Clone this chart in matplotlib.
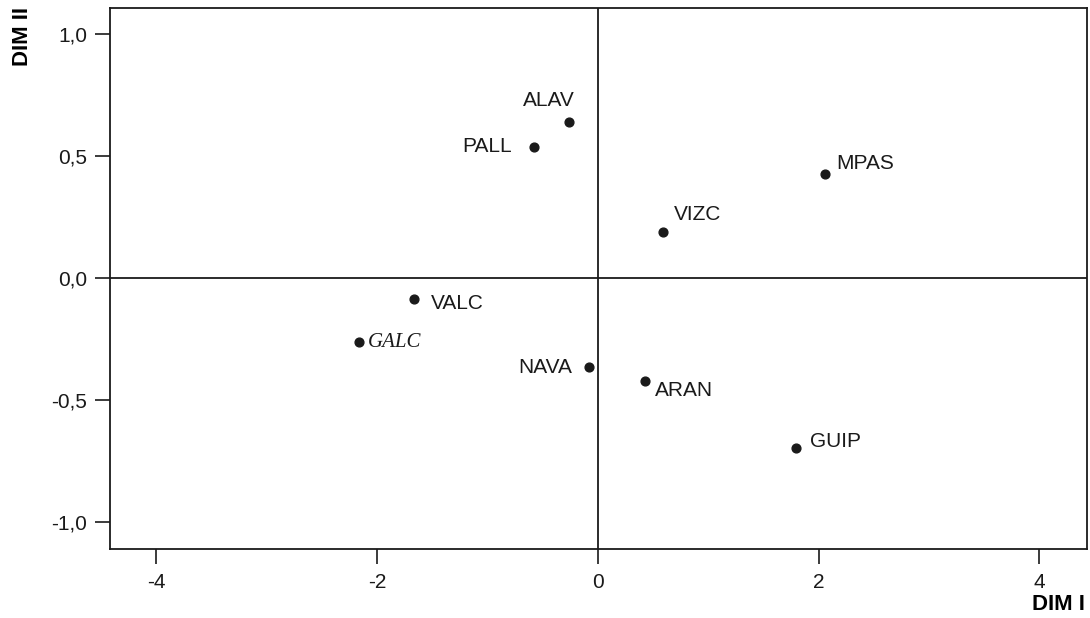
import numpy as np
import matplotlib
matplotlib.use('Agg')
import matplotlib.pyplot as plt

plt.rcParams['font.family'] = ['Liberation Sans', 'DejaVu Sans']
plt.rcParams['axes.unicode_minus'] = False

# coordinates of the provinces on the first two dimensions
names = ['ALAV', 'PALL', 'MPAS', 'VIZC', 'VALC', 'GALC', 'NAVA', 'ARAN', 'GUIP']
dim1 = [-0.26, -0.58, 2.06, 0.59, -1.67, -2.16, -0.08, 0.43, 1.79]
dim2 = [0.64, 0.537, 0.426, 0.189, -0.086, -0.262, -0.365, -0.422, -0.697]

# label offsets in pixels and alignment
offsets = {
    'ALAV': (-20, 21, 'center'),
    'PALL': (-22, 1, 'right'),
    'MPAS': (11, 11, 'left'),
    'VIZC': (11, 18, 'left'),
    'VALC': (17, -4, 'left'),
    'GALC': (8, 0, 'left'),
    'NAVA': (-17, 0, 'right'),
    'ARAN': (10, -9, 'left'),
    'GUIP': (14, 7, 'left'),
}

fig = plt.figure(figsize=(10.9, 6.18), dpi=100)
ax = fig.add_axes([0.1009, 0.1117, 0.8963, 0.8753])

ax.axhline(0, color='#1a1a1a', lw=1.3)
ax.axvline(0, color='#1a1a1a', lw=1.3)
ax.scatter(dim1, dim2, s=40, color='#1a1a1a', zorder=3)

for n, x, y in zip(names, dim1, dim2):
    dx, dy, ha = offsets[n]
    if n == 'GALC':
        ax.annotate(n, (x, y), xytext=(dx, dy), textcoords='offset pixels',
                    ha=ha, va='center', fontsize=15, fontstyle='italic',
                    family=['Liberation Serif', 'DejaVu Serif'], color='#1a1a1a')
    else:
        ax.annotate(n, (x, y), xytext=(dx, dy), textcoords='offset pixels',
                    ha=ha, va='center', fontsize=15, color='#1a1a1a')

ax.set_xlim(-4.42, 4.43)
ax.set_ylim(-1.11, 1.107)
ax.set_xticks([-4, -2, 0, 2, 4])
ax.set_yticks([-1.0, -0.5, 0.0, 0.5, 1.0])
ax.set_yticklabels(['-1,0', '-0,5', '0,0', '0,5', '1,0'])
ax.tick_params(direction='out', length=10.5, width=1.2, labelsize=15, colors='#1a1a1a')
ax.tick_params(axis='x', pad=7)
ax.tick_params(axis='y', pad=6)
for sp in ax.spines.values():
    sp.set_linewidth(1.3)
    sp.set_color('#1a1a1a')

fig.text(22/1090, 1 - 37/618, 'DIM II', rotation=90, ha='center', va='center',
         fontsize=16, fontweight='bold')
fig.text(1085/1090, 1 - 605/618, 'DIM I', ha='right', va='center',
         fontsize=16, fontweight='bold')

plt.savefig('out.png', dpi=100)
plt.close()
